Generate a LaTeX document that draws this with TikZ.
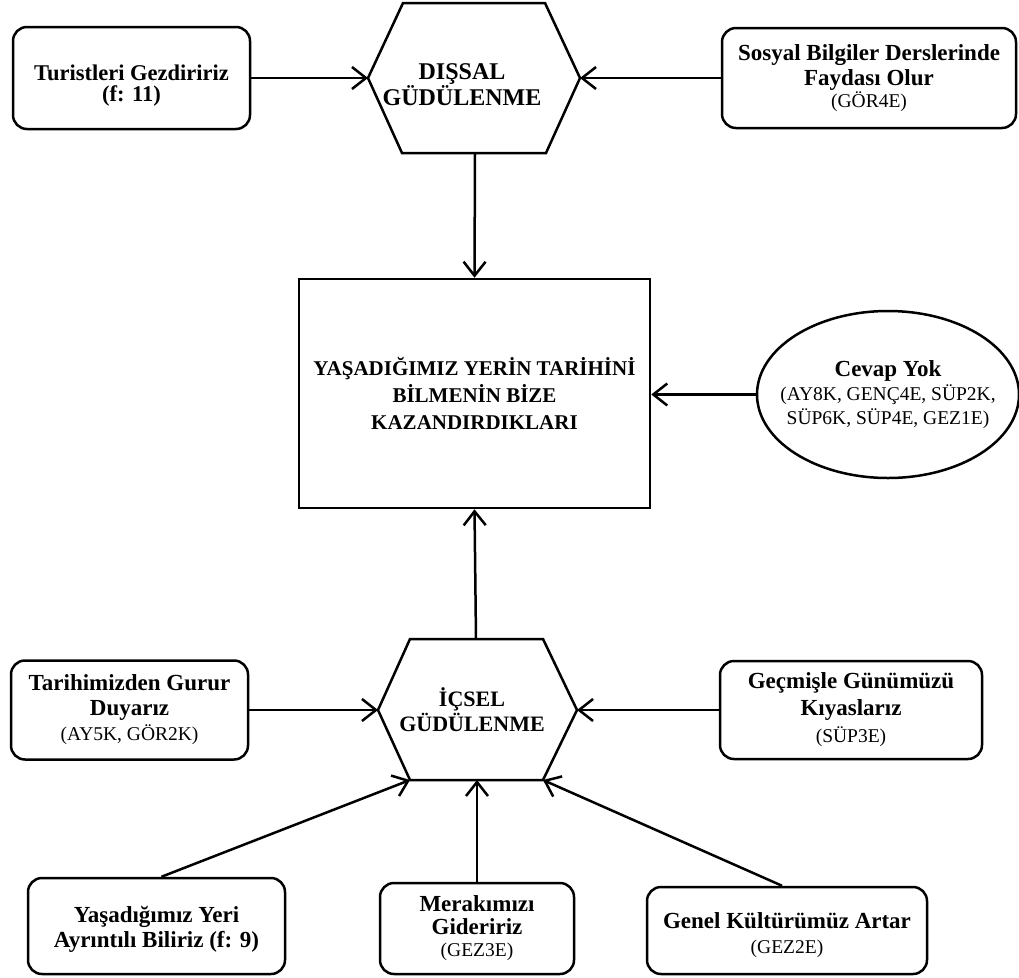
\documentclass[tikz,border=0pt]{standalone}
\usepackage{fontspec}
\setmainfont{Liberation Serif}
\usetikzlibrary{arrows.meta,shapes.geometric,calc}
\newcommand\mycode[1]{{\fontsize{19.5}{22}\selectfont\mdseries #1}}
\begin{document}
\begin{tikzpicture}[x=1pt,y=-1pt,
  lw/.style={line width=2.5pt},
  box/.style={draw,lw,rounded corners=14pt,align=center,inner sep=0pt,
    font=\fontsize{23}{25}\selectfont\bfseries},
  plain/.style={align=center,inner sep=0pt,font=\fontsize{22}{25}\selectfont\bfseries},
  conn/.style={lw,-{Straight Barb[length=14pt,width=22pt]}}
]
\useasboundingbox (0,0) rectangle (1019,977);

% top hexagon
\coordinate (dL) at (368,78);
\coordinate (dTL) at (403,3);
\coordinate (dTR) at (545,3);
\coordinate (dR) at (580,78);
\coordinate (dBR) at (546,153);
\coordinate (dBL) at (402,153);
\draw[lw,line join=miter] (dL) -- (dTL) -- (dTR) -- (dR) -- (dBR) -- (dBL) -- cycle;
\node[plain,font=\fontsize{24}{20}\selectfont\bfseries] (dis) at (462,85) {DIŞSAL\\GÜDÜLENME};
\coordinate (dB) at (475,153);

% bottom hexagon
\coordinate (iL) at (378,710);
\coordinate (iTL) at (410,639);
\coordinate (iTR) at (543,639);
\coordinate (iR) at (577,710);
\coordinate (iBR) at (543,780);
\coordinate (iBL) at (410,780);
\draw[lw,line join=miter] (iL) -- (iTL) -- (iTR) -- (iR) -- (iBR) -- (iBL) -- cycle;
\node[plain] (ic) at (472,710) {İÇSEL\\GÜDÜLENME};
\coordinate (iT) at (476,639);
\coordinate (iB) at (477,780);

% boxes
\node[box,minimum width=237,minimum height=102,font=\fontsize{22.5}{21}\selectfont\bfseries] (tur) at (131.5,78) {\rule{0pt}{30pt}Turistleri Gezdiririz\\(f: 11)};
\node[box,minimum width=294,minimum height=100] (sos) at (869,78) {Sosyal Bilgiler Derslerinde\\Faydası Olur\\[-3pt]\mycode{(GÖR4E)}};
\node[draw,lw,align=center,inner sep=0pt,minimum width=351,minimum height=229,
  font=\fontsize{21}{27}\selectfont\bfseries] (main) at (474.5,393.5)
  {YAŞADIĞIMIZ YERİN TARİHİNİ\\BİLMENİN BİZE\\KAZANDIRDIKLARI};
\node[draw,lw,ellipse,align=center,inner ysep=0pt,inner xsep=-30pt,minimum width=262,minimum height=167,
  font=\fontsize{23}{24}\selectfont\bfseries] (cev) at (888,394.5)
  {Cevap Yok\\\mycode{(AY8K, GENÇ4E, SÜP2K,}\\\mycode{SÜP6K, SÜP4E, GEZ1E)}};
\node[box,minimum width=237,minimum height=99] (tar) at (129.5,710) {Tarihimizden Gurur\\Duyarız\\\mycode{(AY5K, GÖR2K)}};
\node[box,minimum width=262,minimum height=98,font=\fontsize{23}{27}\selectfont\bfseries] (gec) at (851,710) {Geçmişle Günümüzü\\Kıyaslarız\\\mycode{(SÜP3E)}};
\node[box,minimum width=257,minimum height=96] (yas) at (156.5,926) {\rule{0pt}{22pt}Yaşadığımız Yeri\\Ayrıntılı Biliriz (f: 9)};
\node[box,minimum width=194,minimum height=91,font=\fontsize{23}{22.5}\selectfont\bfseries] (mer) at (477,928.5) {Merakımızı\\Gideririz\\\mycode{(GEZ3E)}};
\node[box,minimum width=280,minimum height=87] (gen) at (787,930.5) {\rule{0pt}{26pt}Genel Kültürümüz Artar\\\mycode{(GEZ2E)}};

% connectors
\draw[conn] (tur.east) -- (dL);
\draw[conn] (sos.west) -- (dR);
\draw[conn] (dB) -- (main.north);
\draw[conn] (cev.west) -- (main.east |- cev.west);
\draw[conn] (iT) -- (main.south);
\draw[conn] (tar.east) -- (iL);
\draw[conn] (gec.west) -- (iR);
\draw[conn] ($(yas.north)+(5,0)$) -- (iBL);
\draw[conn] (mer.north) -- (iB);
\draw[conn] ($(gen.north)+(-5,0)$) -- (iBR);
\end{tikzpicture}
\end{document}
